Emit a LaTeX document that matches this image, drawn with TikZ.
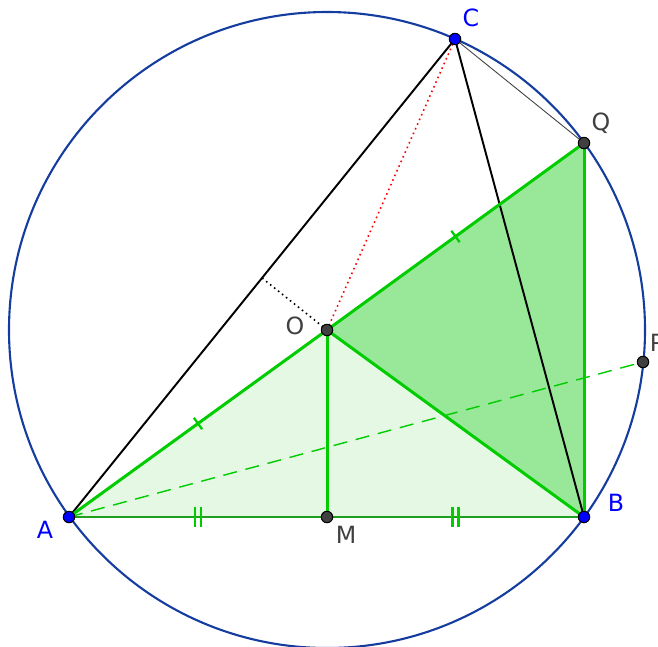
\documentclass[tikz,border=0pt]{standalone}
\usepackage{fontspec}
\setmainfont{DejaVu Sans}
\usetikzlibrary{decorations.markings, calc}
\definecolor{gcircle}{RGB}{21,61,160}
\definecolor{ggreen}{RGB}{0,204,0}
\definecolor{gdeep}{RGB}{30,160,30}
\definecolor{gfilldark}{RGB}{153,232,153}
\definecolor{gfilllight}{RGB}{228,248,228}
\definecolor{gpoint}{RGB}{64,64,64}
\definecolor{glabel}{RGB}{64,64,64}

\begin{document}
\begin{tikzpicture}[x=0.02cm, y=-0.02cm,
  seg/.style={draw=ggreen, line width=1.7pt},
  tick/.style={postaction={decorate}, decoration={markings,
    mark=at position 0.5 with {\draw[ggreen, line width=1.3pt] (0,-4pt) -- (0,4pt);}}},
  ticktwo/.style={postaction={decorate}, decoration={markings,
    mark=at position 0.5 with {\draw[ggreen, line width=1.3pt] (-1.7pt,-5.5pt) -- (-1.7pt,5.5pt) (1.7pt,-5.5pt) -- (1.7pt,5.5pt);}}},
  pt/.style={circle, draw=black, fill=#1, line width=0.6pt, inner sep=0pt, minimum size=6.5pt},
  lbl/.style={font=\fontsize{13.5}{16}\selectfont, text=#1}
]
  \useasboundingbox (0,0) rectangle (658,646);

  % points
  \coordinate (O) at (327,330);
  \coordinate (A) at (69,517);
  \coordinate (B) at (584,517);
  \coordinate (C) at (455,39);
  \coordinate (Q) at (584,143);
  \coordinate (M) at (327,517);
  \coordinate (P) at (643,362);
  \coordinate (K) at ($(A)!0.5!(C)$);

  % fills
  \fill[gfilllight] (A) -- (O) -- (B) -- cycle;
  \fill[gfilldark] (O) -- (Q) -- (B) -- cycle;

  \draw[gcircle, line width=1.2pt] (O) circle [radius=318];

  \draw[black, line width=1.1pt] (A) -- (C);
  \draw[black, line width=1.1pt] (C) -- (B);
  \draw[gpoint, line width=0.5pt] (C) -- (Q);
  \draw[red, line width=0.9pt, dotted] (O) -- (C);
  \draw[black, line width=0.9pt, dotted] (O) -- (K);
  \draw[ggreen, line width=0.8pt, dash pattern=on 8pt off 5pt] (A) -- (P);

  \draw[seg, tick] (A) -- (O);
  \draw[seg, tick] (O) -- (Q);
  \draw[seg] (Q) -- (B);
  \draw[seg] (O) -- (B);
  \draw[seg] (O) -- (M);
  \draw[gdeep, line width=1.4pt, ticktwo] (A) -- (M);
  \draw[gdeep, line width=1.4pt, ticktwo] (M) -- (B);

  % dots
  \node[pt=blue] (dA) at (A) {};
  \node[pt=blue] (dB) at (B) {};
  \node[pt=blue] (dC) at (C) {};
  \node[pt=gpoint] (dO) at (O) {};
  \node[pt=gpoint] (dM) at (M) {};
  \node[pt=gpoint] (dQ) at (Q) {};
  \node[pt=gpoint] (dP) at (P) {};

  % labels
  \node[lbl=blue] (lA) at (45,530) {A};
  \node[lbl=blue] (lB) at (616,503) {B};
  \node[lbl=blue] (lC) at (471,18) {C};
  \node[lbl=glabel] (lQ) at (601,123) {Q};
  \node[lbl=glabel] (lO) at (295,326) {O};
  \node[lbl=glabel] (lM) at (346,535) {M};
  \node[lbl=glabel] (lP) at (657,343) {P};
\end{tikzpicture}
\end{document}
